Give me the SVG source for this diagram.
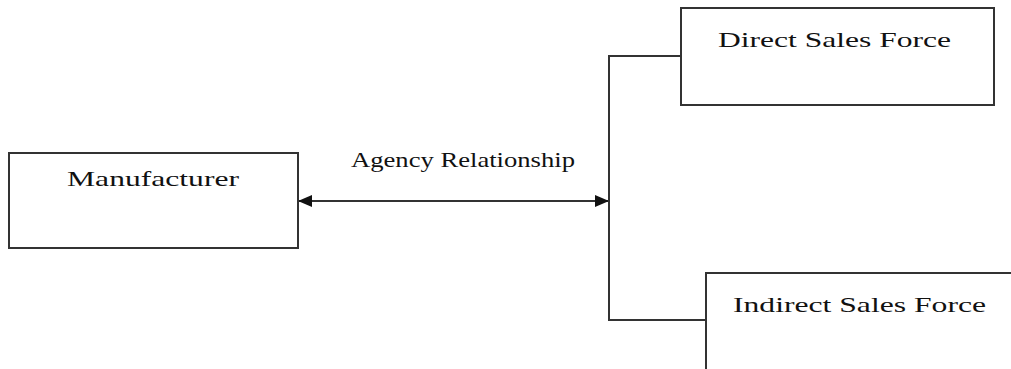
<svg xmlns="http://www.w3.org/2000/svg" width="1011" height="369" viewBox="0 0 1011 369">
  <style>
    .box { fill: #ffffff; stroke: #333333; stroke-width: 2; }
    .lbl { font-family: "Liberation Serif", "Times New Roman", serif; font-size: 22px; fill: #111111; }
    .conn { fill: none; stroke: #333333; stroke-width: 2; }
  </style>
  <defs>
    <marker id="arr" markerWidth="14" markerHeight="12" refX="13" refY="6" orient="auto-start-reverse" markerUnits="userSpaceOnUse">
      <path d="M0,0 L14,6 L0,12 Z" fill="#111111"/>
    </marker>
  </defs>
  <rect width="1011" height="369" fill="#ffffff"/>
  <g id="connectors">
    <line class="conn" x1="299" y1="201" x2="608" y2="201" marker-start="url(#arr)" marker-end="url(#arr)"/>
    <polyline class="conn" points="681,56 609,56 609,320 706,320"/>
    <text class="lbl" x="351" y="167" textLength="224" lengthAdjust="spacingAndGlyphs">Agency Relationship</text>
  </g>
  <g id="manufacturer">
    <rect class="box" x="9" y="153" width="289" height="95"/>
    <text class="lbl" x="67" y="186" textLength="172" lengthAdjust="spacingAndGlyphs">Manufacturer</text>
  </g>
  <g id="direct-sales-force">
    <rect class="box" x="681" y="8" width="313" height="97"/>
    <text class="lbl" x="718" y="47" textLength="233" lengthAdjust="spacingAndGlyphs">Direct Sales Force</text>
  </g>
  <g id="indirect-sales-force">
    <rect class="box" x="706" y="273" width="320" height="110"/>
    <text class="lbl" x="733" y="312" textLength="253" lengthAdjust="spacingAndGlyphs">Indirect Sales Force</text>
  </g>
</svg>
